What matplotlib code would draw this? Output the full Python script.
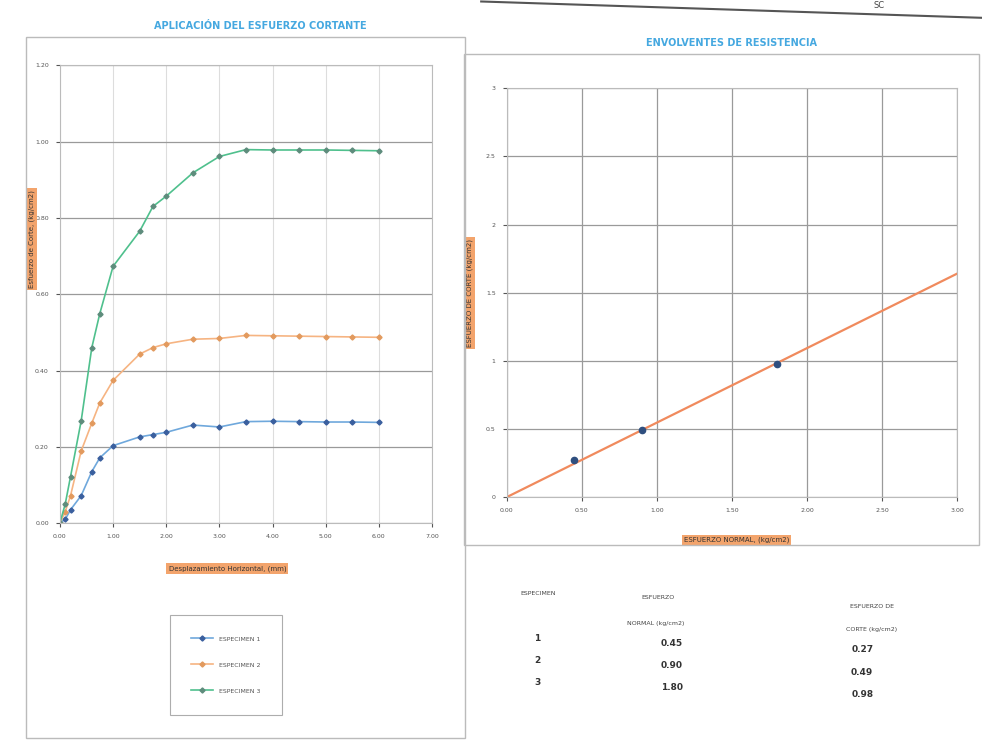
import matplotlib.pyplot as plt
import numpy as np
from matplotlib.patches import Rectangle
from matplotlib.lines import Line2D

# desplazamiento horizontal (mm)
desp = [0, 0.1, 0.2, 0.4, 0.6, 0.75, 1.0, 1.5, 1.75, 2.0, 2.5, 3.0, 3.5, 4.0, 4.5, 5.0, 5.5, 6.0]
# esfuerzo de corte (kg/cm2) por especimen
esp1 = [0, 0.01, 0.035, 0.072, 0.135, 0.171, 0.203, 0.226, 0.232, 0.238, 0.257, 0.252, 0.266, 0.267, 0.266, 0.265, 0.265, 0.264]
esp2 = [0, 0.03, 0.072, 0.189, 0.262, 0.315, 0.374, 0.443, 0.460, 0.470, 0.482, 0.484, 0.492, 0.491, 0.490, 0.489, 0.488, 0.487]
esp3 = [0, 0.05, 0.122, 0.268, 0.460, 0.549, 0.673, 0.765, 0.830, 0.857, 0.918, 0.961, 0.979, 0.978, 0.978, 0.978, 0.977, 0.976]
nombres = ['ESPECIMEN 1', 'ESPECIMEN 2', 'ESPECIMEN 3']

# envolvente
normal = [0.45, 0.90, 1.80]
corte = [0.27, 0.49, 0.98]

titulo_col = '#45A8E0'
naranja_bg = '#F3A46C'
grid_osc = '#9A9A9A'
grid_cla = '#DDDDDD'

fig = plt.figure(figsize=(9.82, 7.42), dpi=100)

# marcos de los paneles
fig.patches.append(Rectangle((0.026, 0.005), 0.448, 0.945, transform=fig.transFigure,
                             fill=False, edgecolor='#BBBBBB', linewidth=1.0))
fig.patches.append(Rectangle((0.472, 0.265), 0.525, 0.662, transform=fig.transFigure,
                             fill=False, edgecolor='#BBBBBB', linewidth=1.0))
# restos del encabezado del documento
fig.add_artist(Line2D([0.49, 1.0], [0.998, 0.976], transform=fig.transFigure, color='#555555', lw=1.5))
fig.text(0.895, 0.993, 'SC', fontsize=6, color='#444444', ha='center', va='center')

fig.text(0.265, 0.965, 'APLICACIÓN DEL ESFUERZO CORTANTE', ha='center', va='center',
         fontsize=7, fontweight='bold', color=titulo_col)
fig.text(0.745, 0.942, 'ENVOLVENTES DE RESISTENCIA', ha='center', va='center',
         fontsize=7, fontweight='bold', color=titulo_col)

# ---- grafico izquierdo
ax1 = fig.add_axes([0.061, 0.295, 0.379, 0.617])
series = [(esp1, '#6FA8DC', '#3A5F9E'), (esp2, '#F6B482', '#E29A5E'), (esp3, '#4FC08D', '#5E8C7C')]
for (ys, lc, mc), nom in zip(series, nombres):
    ax1.plot(desp, ys, color=lc, lw=1.2, marker='D', markersize=2.6,
             markerfacecolor=mc, markeredgecolor=mc, label=nom)
ax1.set_xlim(0, 7)
ax1.set_ylim(0, 1.2)
ax1.set_xticks(np.arange(0, 7.01, 1.0))
ax1.set_yticks(np.arange(0, 1.21, 0.2))
ax1.set_xticklabels(['%.2f' % v for v in np.arange(0, 7.01, 1.0)])
ax1.set_yticklabels(['%.2f' % v for v in np.arange(0, 1.21, 0.2)])
ax1.grid(axis='y', color=grid_osc, lw=0.9)
ax1.grid(axis='x', color=grid_cla, lw=0.8)
ax1.set_axisbelow(True)
ax1.tick_params(labelsize=4.5, colors='#555555', length=3, pad=5)
for s in ax1.spines.values():
    s.set_color('#BBBBBB')
ax1.set_xlabel('Desplazamiento Horizontal, (mm)', fontsize=5, color='#333333',
               bbox=dict(boxstyle='square,pad=0.3', facecolor=naranja_bg, edgecolor='none'))
ax1.xaxis.set_label_coords(0.45, -0.092)
ax1.set_ylabel('Esfuerzo de Corte, (kg/cm2)', fontsize=5, color='#333333',
               bbox=dict(boxstyle='square,pad=0.3', facecolor=naranja_bg, edgecolor='none'))
ax1.yaxis.set_label_coords(-0.068, 0.62)
leg = ax1.legend(loc='upper left', bbox_to_anchor=(170 / 982, 1 - 615 / 742),
                 bbox_transform=fig.transFigure, fontsize=4.5,
                 frameon=True, fancybox=False, edgecolor='#999999', borderpad=3.4,
                 labelspacing=3.3, handlelength=3.4, handletextpad=1.0, borderaxespad=0)
leg.get_frame().set_linewidth(0.8)
for t in leg.get_texts():
    t.set_color('#555555')

# ---- grafico derecho
ax2 = fig.add_axes([0.516, 0.33, 0.459, 0.551])
pend = np.sum(np.array(normal) * np.array(corte)) / np.sum(np.array(normal) ** 2)
xr = np.array([0, 3.0])
ax2.plot(xr, pend * xr, color='#F08A5D', lw=1.6)
ax2.plot(normal, corte, 'o', color='#2F4F7F', markersize=4.5)
ax2.set_xlim(0, 3)
ax2.set_ylim(0, 3)
ax2.set_xticks(np.arange(0, 3.01, 0.5))
ax2.set_xticklabels(['%.2f' % v for v in np.arange(0, 3.01, 0.5)])
ax2.set_yticks([0, 0.5, 1, 1.5, 2, 2.5, 3])
ax2.set_yticklabels(['0', '0.5', '1', '1.5', '2', '2.5', '3'])
ax2.grid(color=grid_osc, lw=0.9)
ax2.set_axisbelow(True)
ax2.tick_params(labelsize=4.5, colors='#555555', length=3, pad=5)
for s in ax2.spines.values():
    s.set_color('#BBBBBB')
ax2.set_xlabel('ESFUERZO NORMAL, (kg/cm2)', fontsize=5, color='#333333',
               bbox=dict(boxstyle='square,pad=0.3', facecolor=naranja_bg, edgecolor='none'))
ax2.xaxis.set_label_coords(0.51, -0.097)
ax2.set_ylabel('ESFUERZO DE CORTE (kg/cm2)', fontsize=5, color='#333333',
               bbox=dict(boxstyle='square,pad=0.3', facecolor=naranja_bg, edgecolor='none'))
ax2.yaxis.set_label_coords(-0.075, 0.5)

# ---- tabla de resultados
fig.text(0.53, 0.2, 'ESPECIMEN', fontsize=4.5, color='#444444', va='center')
fig.text(0.67, 0.195, 'ESFUERZO', fontsize=4.5, color='#444444', ha='center', va='center')
fig.text(0.668, 0.16, 'NORMAL (kg/cm2)', fontsize=4.5, color='#444444', ha='center', va='center')
fig.text(0.888, 0.183, 'ESFUERZO DE', fontsize=4.5, color='#444444', ha='center', va='center')
fig.text(0.888, 0.151, 'CORTE (kg/cm2)', fontsize=4.5, color='#444444', ha='center', va='center')
for i, (n, c) in enumerate(zip(normal, corte)):
    fig.text(0.547, 0.14 - i * 0.03, str(i + 1), fontsize=6.5, color='#333333',
             fontweight='semibold', ha='center', va='center')
    fig.text(0.684, 0.133 - i * 0.03, '%.2f' % n, fontsize=6.5, color='#333333',
             fontweight='semibold', ha='center', va='center')
    fig.text(0.878, 0.124 - i * 0.03, '%.2f' % c, fontsize=6.5, color='#333333',
             fontweight='semibold', ha='center', va='center')

fig.savefig('out.png', dpi=100, facecolor='white')
